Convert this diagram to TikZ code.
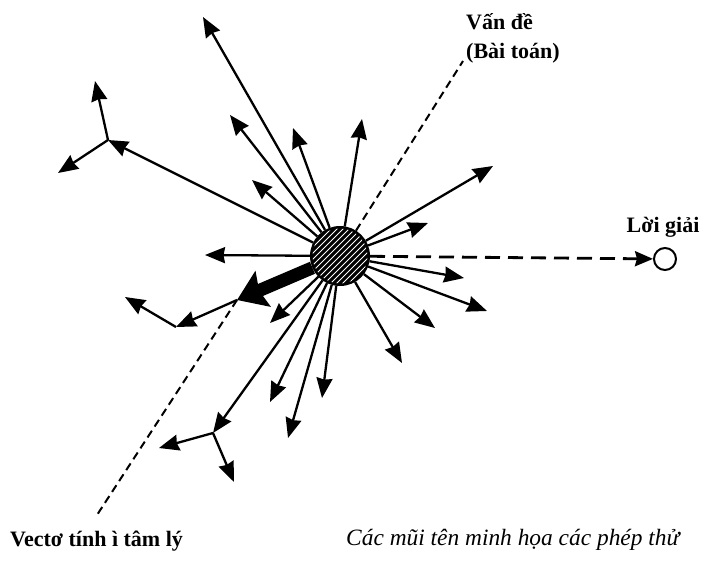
\documentclass[tikz,border=0pt]{standalone}
\usepackage{fontspec}
\setmainfont{Liberation Serif}
\usetikzlibrary{arrows.meta, positioning, calc}

\begin{document}
\begin{tikzpicture}[
    x=1pt, y=-1pt,
    trial/.style={-{Stealth[length=20pt, width=16pt, inset=1.5pt]}, line width=2.3pt},
    inertia/.style={-{Stealth[length=28pt, width=38pt, inset=4pt]}, line width=13pt},
    guide/.style={line width=2pt, dash pattern=on 8pt off 5pt},
    tosol/.style={-{Stealth[length=18pt, width=15pt, inset=2pt]}, line width=2.8pt, dash pattern=on 15pt off 8pt},
    bigtext/.style={font=\fontsize{22}{27}\selectfont\bfseries, inner sep=0pt},
    captext/.style={font=\fontsize{23.4}{28}\selectfont\itshape, inner sep=0pt}
]
\useasboundingbox (0,0) rectangle (714,563);

% Problem and solution
\node[circle, draw, line width=2pt, fill=black, minimum size=58pt, inner sep=0pt] (prob) at (340,256) {};
\begin{scope}
  \clip (prob.center) circle (27.5pt);
  \foreach \k in {-66,-60,...,66}
    \draw[white, line width=1pt] ($(prob.center)+(\k,0)+(-40,40)$) -- ++(80,-80);
\end{scope}
\node[circle, draw, line width=2pt, fill=white, minimum size=22pt, inner sep=0pt] (sol) at (665,259) {};

% Labels
\node[bigtext, anchor=base west] (probname) at (466,29) {Vấn đề};
\node[bigtext, anchor=base west] (probsub) at (466,58) {(Bài toán)};
\node[bigtext, anchor=base] (sollbl) at (663,232) {Lời giải};
\node[bigtext, anchor=base west] (inertlbl) at (10,546) {Vectơ tính ì tâm lý};
\node[captext, anchor=base west] (caption) at (346,545) {Các mũi tên minh họa các phép thử};

% Tips of the trials
\foreach \n/\x/\y in {t1/203/17, t2/230/115, t3/293/128, t4/362/119, t5/252/180,
    t6/493/166, t7/428/223, t8/464/278, t9/487/311, t10/435/328, t11/402/363,
    t12/322/398, t13/288/438, t14/270/402, t15/270/323, t16/205/255}
  \coordinate (\n) at (\x,\y);
\coordinate (fork1) at (108,140);
\coordinate (fork1a) at (95,81);
\coordinate (fork1b) at (58,173);
\coordinate (fork2) at (213,433);
\coordinate (fork2a) at (159,448);
\coordinate (fork2b) at (234,482);
\coordinate (inert) at (237,300);
\coordinate (bend) at (176,327);
\coordinate (bendend) at (125,297);
\coordinate (probdir) at (463,61);
\coordinate (inertdir) at (97,515);

% Dashed lines
\draw[guide] (prob) -- (probdir);
\draw[guide] (inert) -- (inertdir);
\draw[tosol] (prob) -- (sol);

% Trials
\foreach \n in {t1,t2,t3,t4,t5,t6,t7,t8,t9,t10,t11,t12,t13,t14,t15,t16}
  \draw[trial] (prob) -- (\n);
\draw[trial] (prob) -- (fork1);
\draw[trial] (fork1) -- (fork1a);
\draw[trial] (fork1) -- (fork1b);
\draw[trial] (prob) -- (fork2);
\draw[trial] (fork2) -- (fork2a);
\draw[trial] (fork2) -- (fork2b);

% Inertia vector
\draw[inertia] (prob) -- (inert);
\draw[trial] (inert) -- (bend);
\draw[trial] (bend) -- (bendend);

\end{tikzpicture}
\end{document}
